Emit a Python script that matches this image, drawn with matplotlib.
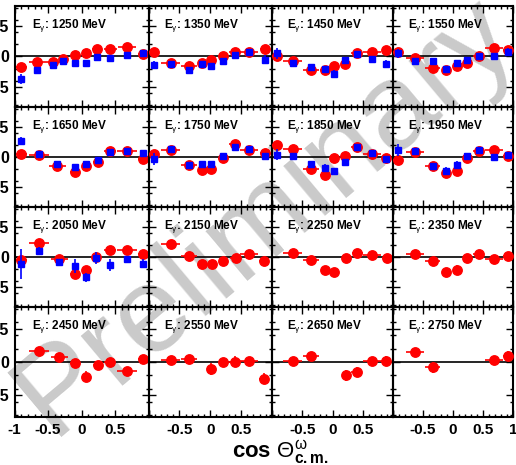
import matplotlib
matplotlib.use("Agg")
import matplotlib.pyplot as plt
from matplotlib.ticker import MultipleLocator, FixedLocator

plt.rcParams['font.family'] = ['Liberation Sans', 'DejaVu Sans']
plt.rcParams['mathtext.fontset'] = 'custom'
plt.rcParams['mathtext.rm'] = 'Liberation Sans'
plt.rcParams['mathtext.it'] = 'Liberation Sans'
plt.rcParams['mathtext.bf'] = 'Liberation Sans:bold'

energies = [1250, 1350, 1450, 1550, 1650, 1750, 1850, 1950,
            2050, 2150, 2250, 2350, 2450, 2550, 2650, 2750]

# red: circles with x and y errors, one list per panel
red_x = [
    [-0.90, -0.66, -0.43, -0.27, -0.10, 0.06, 0.23, 0.43, 0.68, 0.92],
    [-0.91, -0.64, -0.35, -0.13, 0.02, 0.20, 0.40, 0.63, 0.88],
    [-0.92, -0.66, -0.36, -0.13, 0.03, 0.21, 0.40, 0.65, 0.89],
    [-0.92, -0.64, -0.34, -0.11, 0.06, 0.24, 0.43, 0.68, 0.92],
    [-0.90, -0.63, -0.36, -0.10, 0.06, 0.24, 0.43, 0.68, 0.92],
    [-0.91, -0.64, -0.35, -0.13, 0.02, 0.20, 0.40, 0.63, 0.88],
    [-0.92, -0.66, -0.36, -0.13, 0.03, 0.21, 0.40, 0.65, 0.89],
    [-0.92, -0.64, -0.34, -0.11, 0.06, 0.24, 0.43, 0.68, 0.92],
    [-0.90, -0.63, -0.33, -0.10, 0.06, 0.22, 0.43, 0.68, 0.92],
    [-0.64, -0.34, -0.13, 0.03, 0.21, 0.41, 0.63, 0.87],
    [-0.66, -0.36, -0.12, 0.03, 0.22, 0.41, 0.65, 0.90],
    [-0.64, -0.34, -0.11, 0.06, 0.24, 0.43, 0.68, 0.92],
    [-0.63, -0.33, -0.10, 0.06, 0.24, 0.43, 0.68, 0.92],
    [-0.64, -0.34, 0.02, 0.21, 0.40, 0.63, 0.87],
    [-0.66, -0.35, 0.22, 0.40, 0.65, 0.88],
    [-0.64, -0.34, 0.68, 0.92],
]
red_y = [
    [-0.18, -0.09, -0.09, -0.04, 0.02, 0.05, 0.13, 0.12, 0.16, 0.04],
    [0.07, -0.11, -0.15, -0.11, -0.05, 0.01, 0.08, 0.07, 0.13],
    [0.00, -0.07, -0.23, -0.22, -0.16, -0.13, 0.05, 0.08, 0.10],
    [0.08, -0.03, -0.19, -0.22, -0.16, -0.10, 0.00, 0.14, 0.10],
    [0.05, 0.04, -0.15, -0.25, -0.15, -0.09, 0.10, 0.10, -0.04],
    [0.05, 0.12, -0.14, -0.21, -0.20, -0.01, 0.21, 0.11, 0.07],
    [0.20, 0.14, -0.20, -0.30, -0.02, 0.02, 0.16, 0.05, -0.02],
    [-0.05, 0.09, -0.15, -0.27, -0.23, -0.01, 0.10, 0.12, 0.02],
    [-0.05, 0.23, -0.03, -0.28, -0.21, 0.00, 0.12, 0.12, 0.05],
    [0.22, 0.01, -0.11, -0.11, -0.07, -0.01, 0.05, -0.07],
    [0.07, -0.05, -0.21, -0.25, -0.01, 0.07, 0.03, -0.01],
    [0.05, -0.07, -0.25, -0.21, -0.02, 0.05, -0.04, 0.02],
    [0.16, 0.07, -0.02, -0.22, -0.05, -0.005, -0.14, 0.05],
    [0.03, 0.04, -0.11, -0.005, 0.005, 0.015, -0.25],
    [0.01, 0.09, -0.20, -0.15, 0.01, 0.02],
    [0.15, -0.08, 0.03, 0.09],
]
red_yerr = [
    [0.06, 0.03, 0.03, 0.04, 0.03, 0.03, 0.03, 0.03, 0.03, 0.05],
    [0.04, 0.03, 0.03, 0.03, 0.03, 0.03, 0.03, 0.03, 0.06],
    [0.04, 0.03, 0.03, 0.03, 0.04, 0.03, 0.03, 0.03, 0.04],
    [0.04, 0.03, 0.03, 0.03, 0.03, 0.03, 0.03, 0.03, 0.05],
    [0.06, 0.03, 0.03, 0.03, 0.03, 0.03, 0.03, 0.03, 0.04],
    [0.05, 0.03, 0.03, 0.03, 0.03, 0.03, 0.03, 0.03, 0.05],
    [0.06, 0.03, 0.04, 0.04, 0.03, 0.03, 0.03, 0.03, 0.03],
    [0.05, 0.03, 0.03, 0.04, 0.04, 0.03, 0.03, 0.03, 0.03],
    [0.04, 0.04, 0.03, 0.04, 0.04, 0.04, 0.04, 0.04, 0.04],
    [0.03, 0.04, 0.05, 0.04, 0.04, 0.05, 0.04, 0.05],
    [0.04, 0.04, 0.05, 0.05, 0.05, 0.05, 0.04, 0.04],
    [0.05, 0.05, 0.07, 0.07, 0.05, 0.06, 0.04, 0.04],
    [0.06, 0.06, 0.07, 0.08, 0.06, 0.06, 0.05, 0.06],
    [0.06, 0.06, 0.09, 0.07, 0.08, 0.06, 0.08],
    [0.06, 0.06, 0.08, 0.08, 0.06, 0.07],
    [0.06, 0.08, 0.06, 0.07],
]
red_xerr = [
    [0.08, 0.13, 0.10, 0.06, 0.06, 0.06, 0.08, 0.10, 0.13, 0.08],
    [0.08, 0.15, 0.13, 0.07, 0.06, 0.07, 0.09, 0.15, 0.08],
    [0.08, 0.15, 0.13, 0.07, 0.06, 0.07, 0.09, 0.15, 0.08],
    [0.08, 0.15, 0.13, 0.07, 0.06, 0.07, 0.09, 0.15, 0.08],
    [0.08, 0.15, 0.13, 0.07, 0.06, 0.07, 0.09, 0.15, 0.08],
    [0.08, 0.15, 0.13, 0.07, 0.06, 0.07, 0.09, 0.15, 0.08],
    [0.08, 0.15, 0.13, 0.07, 0.06, 0.07, 0.09, 0.15, 0.08],
    [0.08, 0.15, 0.13, 0.07, 0.06, 0.07, 0.09, 0.15, 0.08],
    [0.08, 0.15, 0.13, 0.07, 0.06, 0.07, 0.09, 0.15, 0.08],
    [0.15, 0.13, 0.07, 0.06, 0.07, 0.09, 0.15, 0.08],
    [0.15, 0.13, 0.07, 0.06, 0.07, 0.09, 0.15, 0.08],
    [0.15, 0.13, 0.07, 0.06, 0.07, 0.09, 0.15, 0.08],
    [0.15, 0.13, 0.07, 0.06, 0.07, 0.09, 0.15, 0.08],
    [0.15, 0.13, 0.06, 0.07, 0.09, 0.15, 0.08],
    [0.15, 0.13, 0.07, 0.09, 0.15, 0.08],
    [0.15, 0.13, 0.15, 0.08],
]

# blue: squares, only for the first nine energies
blue_x = red_x[:9]
blue_y = [
    [-0.37, -0.23, -0.14, -0.08, -0.10, -0.11, -0.01, -0.02, 0.02, 0.05],
    [-0.14, -0.12, -0.22, -0.13, -0.15, -0.07, 0.03, 0.07, -0.05],
    [0.05, -0.11, -0.18, -0.21, -0.28, -0.06, 0.04, -0.04, -0.12],
    [0.05, -0.08, -0.08, -0.20, -0.11, -0.05, 0.01, 0.00, 0.07],
    [0.27, 0.05, -0.11, -0.16, -0.11, -0.05, 0.08, 0.10, 0.07],
    [-0.03, 0.13, -0.14, -0.11, -0.11, 0.02, 0.16, 0.13, 0.01],
    [0.04, 0.02, -0.12, -0.18, -0.23, -0.09, 0.16, 0.07, -0.03],
    [0.11, 0.10, -0.15, -0.23, -0.13, 0.01, 0.11, 0.00, 0.03],
    [-0.11, 0.10, -0.09, -0.15, -0.34, -0.02, -0.14, -0.04, -0.11],
]
blue_yerr = [
    [0.08, 0.02, 0.02, 0.02, 0.02, 0.02, 0.02, 0.02, 0.02, 0.06],
    [0.06, 0.02, 0.03, 0.03, 0.04, 0.04, 0.04, 0.03, 0.08],
    [0.09, 0.03, 0.04, 0.04, 0.06, 0.04, 0.03, 0.03, 0.07],
    [0.08, 0.04, 0.04, 0.05, 0.04, 0.04, 0.05, 0.05, 0.07],
    [0.07, 0.02, 0.03, 0.04, 0.03, 0.03, 0.04, 0.03, 0.05],
    [0.10, 0.03, 0.03, 0.05, 0.05, 0.04, 0.06, 0.04, 0.05],
    [0.09, 0.03, 0.04, 0.06, 0.05, 0.05, 0.05, 0.03, 0.04],
    [0.10, 0.04, 0.04, 0.06, 0.07, 0.04, 0.06, 0.05, 0.05],
    [0.25, 0.06, 0.05, 0.12, 0.08, 0.10, 0.10, 0.05, 0.07],
]

W, H = 516, 465
col_edges = [14.5, 148.5, 272, 393, 513]
row_edges = [6, 107, 207, 307, 417]

fig = plt.figure(figsize=(W / 100, H / 100), dpi=100)

for i, e in enumerate(energies):
    r, c = divmod(i, 4)
    l, rr = col_edges[c], col_edges[c + 1]
    t, b = row_edges[r], row_edges[r + 1]
    ax = fig.add_axes([l / W, 1 - b / H, (rr - l) / W, (b - t) / H])
    ax.set_facecolor('none')
    ax.set_xlim(-1, 1)
    ax.set_ylim(-0.83, 0.83)
    ax.axhline(0, color='black', lw=1.2, zorder=1)

    ax.errorbar(red_x[i], red_y[i], yerr=red_yerr[i], xerr=red_xerr[i],
                fmt='o', color='red', ms=6.8, elinewidth=1.2, capsize=0, zorder=3)
    if i < len(blue_y):
        ax.errorbar(blue_x[i], blue_y[i], yerr=blue_yerr[i],
                    fmt='s', color='blue', ms=4.3, elinewidth=1.2, capsize=0, zorder=4)

    ax.annotate(r"E$_{\gamma}$: %d MeV" % e, xy=(0, 1), xycoords='axes fraction',
                xytext=(17 if c == 0 else 15, -22), textcoords='offset pixels',
                fontsize=8.5, fontweight='bold', va='baseline')

    for s in ax.spines.values():
        s.set_linewidth(1.5)

    ax.set_xticks([-1, -0.5, 0, 0.5, 1])
    ax.xaxis.set_minor_locator(MultipleLocator(0.1))
    ax.set_yticks([-0.5, 0, 0.5])
    ax.yaxis.set_minor_locator(FixedLocator([-0.8, -0.6, -0.4, -0.2, 0.2, 0.4, 0.6, 0.8]))
    ax.tick_params(which='both', direction='in', top=True, right=True, width=1)
    ax.tick_params(which='major', length=5)
    ax.tick_params(which='minor', length=2.5)

    xl = ['-1', '-0.5', '0', '0.5', '1']
    if c == 0:
        xl[4] = ''
    elif c == 3:
        xl[0] = ''
    else:
        xl[0] = xl[4] = ''
    ax.set_xticklabels(xl, fontsize=11, fontweight='bold')
    ax.set_yticklabels(['-0.5', '0', '0.5'], fontsize=11.5, fontweight='bold')
    ax.tick_params(labelbottom=(r == 3), labelleft=(c == 0), pad=4)

fig.text(0.515, 0.535, "Preliminary", rotation=40, fontsize=88, color='#cacaca',
         ha='center', va='center', rotation_mode='anchor', zorder=-1)

fig.text(280 / W, 1 - 458 / H, r"cos $\Theta^{\omega}_{\mathbf{c.m.}}$",
         fontsize=16, fontweight='bold', ha='center', va='baseline')

fig.savefig('out.png', dpi=100)
